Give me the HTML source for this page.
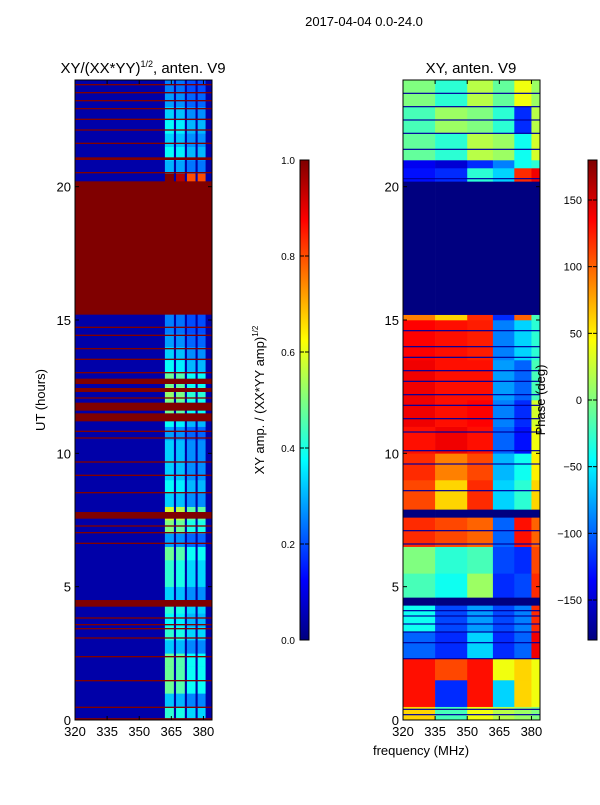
<!DOCTYPE html>
<html><head><meta charset="utf-8"><style>
body{margin:0;background:#fff;font-family:"Liberation Sans",sans-serif;}
svg text{font-family:"Liberation Sans","DejaVu Sans",sans-serif;}
</style></head><body>
<svg id="fig" width="600" height="800" xmlns="http://www.w3.org/2000/svg">
<defs>
<linearGradient id="jetg" x1="0" y1="1" x2="0" y2="0">
<stop offset="0" stop-color="#00007f"/><stop offset="0.125" stop-color="#0000ff"/>
<stop offset="0.375" stop-color="#00ffff"/><stop offset="0.625" stop-color="#ffff00"/>
<stop offset="0.875" stop-color="#ff0000"/><stop offset="1" stop-color="#7f0000"/>
</linearGradient>
<clipPath id="clipL"><rect x="75" y="80" width="137" height="640"/></clipPath>
<clipPath id="clipR"><rect x="403" y="80" width="137" height="640"/></clipPath>
</defs>
<text x="364" y="26" font-size="13" text-anchor="middle">2017-04-04 0.0-24.0</text>
<text x="143" y="73" font-size="15" text-anchor="middle">XY/(XX*YY)<tspan font-size="9" dy="-6">1/2</tspan><tspan dy="6">, anten. V9</tspan></text>
<text x="471" y="73" font-size="15" text-anchor="middle">XY, anten. V9</text>
<g id="gL" clip-path="url(#clipL)"></g>
<g id="gR" clip-path="url(#clipR)"></g>
<rect x="75" y="80" width="137" height="640" fill="none" stroke="#000"/>
<rect x="403" y="80" width="137" height="640" fill="none" stroke="#000"/>
<g id="axes"></g>
<text transform="translate(45,400) rotate(-90)" font-size="13" text-anchor="middle">UT (hours)</text>
<text x="421" y="755" font-size="13" text-anchor="middle">frequency (MHz)</text>
<text transform="translate(264,400) rotate(-90)" font-size="13" text-anchor="middle">XY amp. / (XX*YY amp)<tspan font-size="8" dy="-6">1/2</tspan></text>
<text transform="translate(545,400) rotate(-90)" font-size="13" text-anchor="middle">Phase (deg)</text>
<rect x="300" y="160" width="9" height="480" fill="url(#jetg)" stroke="#000"/>
<rect x="588" y="160" width="9" height="480" fill="url(#jetg)" stroke="#000"/>
<g id="cb"></g>
</svg>
<script>
// ---- data ----
const ampRows = [0.42,0.32,0.48,0.48,0.48,0.32,0.42,0.38,0.42,0.33,0.42,0.42,0.48,0.28,0.5,0.58,0.33,0.38,0.33,0.33,0.33,0.28,0.38,0.48,0.52,0.48,0.38,0.33,0.28,0.25,0.25,1,1,1,1,1,1,1,1,1,1,0.3,0.38,0.33,0.38,0.33,0.28,0.25];
const ampColScale = [1.0,0.95,0.8,0.8];
const ampColFreqs = [[362,366.2],[367.2,371.3],[372.3,376.3],[377.3,381]];
const ampBackground = 0.04;
const redStart = [0,0.45,1.45,2.35,3.05,3.4,3.55,3.8,4.25,6.6,7.0,7.25,7.55,8.5,9.15,9.65,10.55,10.8,11.2,11.6,12.05,12.3,12.6,13.0,13.5,13.9,14.4,14.7,15.2,20.5,21.0,21.6,22.1,22.5,22.9,23.2,23.5,23.8];
const redEnd   = [0.07,0.5,1.5,2.4,3.1,3.45,3.6,3.85,4.5,6.65,7.05,7.3,7.8,8.55,9.2,9.7,10.6,10.85,11.5,11.9,12.1,12.45,12.8,13.05,13.55,13.95,14.45,14.75,20.2,20.55,21.1,21.65,22.15,22.55,22.95,23.25,23.55,23.85];
const phaseFreqEdges = [320,335,350,362,372,380,384];
const phaseStart = [0,0.5,1.5,2.3,3.3,4.3,4.6,5.5,6.5,7.6,7.9,9.0,10.0,11.0,12.0,13.5,15.0,15.2,20.2,20.7,21.0,22.0,23.0];
const phaseEnd   = [0.5,1.5,2.3,3.3,4.3,4.6,5.5,6.5,7.6,7.9,9.0,10.0,11.0,12.0,13.5,15.0,15.2,20.2,20.7,21.0,22.0,23.0,24.0];
const phaseVals = [
 [60,-20,40,20,10,0],
 [130,-120,130,-60,60,40],
 [130,110,130,40,60,40],
 [-100,-120,-60,-120,-100,140],
 [-40,-110,-80,-110,-90,120],
 [-180,-180,-180,-180,-180,-180],
 [-20,-40,10,-120,-110,120],
 [0,-30,-20,-110,-120,110],
 [120,110,100,-100,130,100],
 [-180,-180,-180,-180,-180,-180],
 [110,60,120,-60,-30,60],
 [120,90,110,-70,-40,50],
 [130,140,130,-100,-130,40],
 [140,130,135,-90,-120,30],
 [140,130,130,-80,-100,-20],
 [135,130,125,-90,-60,-30],
 [90,60,120,-120,100,-20],
 [-180,-180,-180,-180,-180,-180],
 [-130,-120,-30,-60,120,140],
 [-140,-150,-120,-90,-40,-30],
 [-10,-30,20,10,-40,30],
 [-20,10,0,-30,-120,20],
 [0,-30,20,-10,40,10]
];
const phaseLineHours = [0.2,0.4,2.3,2.9,3.3,3.6,3.9,4.1,6.6,7.1,8.6,9.6,10.1,10.8,11.3,11.8,12.2,12.7,13.1,13.6,14.0,14.6,20.3,21.4,22.0,22.5,23.0,23.5];
const ampTicks = [0,0.2,0.4,0.6,0.8,1.0];
const phaseTicks = [150,100,50,0,-50,-100,-150];
const hourTicks = [0,5,10,15,20];
const freqTicks = [320,335,350,365,380];
// ---- scales ----
const NS='http://www.w3.org/2000/svg';
const yH = h => 720 - h*640/24;
const xL = f => 75 + (f-320)*137/64;
const xR = f => 403 + (f-320)*137/64;
const yAmp = v => 640 - v*480;
const yPh = p => 400 - p*480/360;
function jet(t){t=Math.max(0,Math.min(1,t));
 const c=x=>Math.round(255*Math.max(0,Math.min(1,x)));
 const r=c(Math.min(4*t-1.5,-4*t+4.5)),g=c(Math.min(4*t-0.5,-4*t+3.5)),b=c(Math.min(4*t+0.5,-4*t+2.5));
 return `rgb(${r},${g},${b})`;}
function mk(parent,tag,attrs){const e=document.createElementNS(NS,tag);for(const k in attrs)e.setAttribute(k,attrs[k]);parent.appendChild(e);return e;}
const gL=document.getElementById('gL'),gR=document.getElementById('gR'),ax=document.getElementById('axes'),cb=document.getElementById('cb');
let bg=mk(gL,'rect',{x:75,y:80,width:137,height:640,fill:jet(ampBackground)});


ampRows.forEach((v,i)=>{ampColFreqs.forEach((fr,j)=>{
 const r=mk(gL,'rect',{x:xL(fr[0]),y:yH((i+1)*0.5),width:xL(fr[1])-xL(fr[0]),height:640/48+0.3,fill:jet(v*ampColScale[j])});
 
 
});});
redStart.forEach((s,i)=>{
 const r=mk(gL,'rect',{x:75,y:yH(redEnd[i]),width:137,height:Math.max(1,yH(s)-yH(redEnd[i])),fill:jet(1)});
 
 
});
phaseStart.forEach((s,i)=>{phaseVals[i].forEach((p,j)=>{
 const r=mk(gR,'rect',{x:xR(phaseFreqEdges[j]),y:yH(phaseEnd[i]),width:xR(phaseFreqEdges[j+1])-xR(phaseFreqEdges[j])+0.3,height:yH(s)-yH(phaseEnd[i])+0.3,fill:jet((p+180)/360)});
 
 
});});
phaseLineHours.forEach(h=>{
 const r=mk(gR,'rect',{x:403,y:yH(h)-0.6,width:137,height:1.2,fill:jet(0.03)});
 
 
});
[[75,xL],[403,xR]].forEach(([x0,xs],k)=>{
 hourTicks.forEach(h=>{
  mk(ax,'line',{x1:x0,x2:x0+4,y1:yH(h),y2:yH(h),stroke:'#000'});
  mk(ax,'line',{x1:x0+133,x2:x0+137,y1:yH(h),y2:yH(h),stroke:'#000'});
  const t=mk(ax,'text',{x:x0-4,y:yH(h)+5,'font-size':13,'text-anchor':'end'});t.textContent=h;
  
  
 });
 freqTicks.forEach(f=>{
  const x=xs(f);
  mk(ax,'line',{x1:x,x2:x,y1:720,y2:716,stroke:'#000'});
  mk(ax,'line',{x1:x,x2:x,y1:80,y2:84,stroke:'#000'});
  const t=mk(ax,'text',{x:x,y:736,'font-size':13,'text-anchor':'middle'});t.textContent=f;
  
  
 });
});
ampTicks.forEach(v=>{
 mk(cb,'line',{x1:300,x2:304,y1:yAmp(v),y2:yAmp(v),stroke:'#000'});
 mk(cb,'line',{x1:305,x2:309,y1:yAmp(v),y2:yAmp(v),stroke:'#000'});
 const t=mk(cb,'text',{x:295,y:yAmp(v)+4,'font-size':10,'text-anchor':'end'});t.textContent=v.toFixed(1);
 
 
});
phaseTicks.forEach(p=>{
 mk(cb,'line',{x1:588,x2:592,y1:yPh(p),y2:yPh(p),stroke:'#000'});
 mk(cb,'line',{x1:593,x2:597,y1:yPh(p),y2:yPh(p),stroke:'#000'});
 const t=mk(cb,'text',{x:582,y:yPh(p)+4,'font-size':11,'text-anchor':'end'});t.textContent=p<0?'\u2212'+(-p):p;
 
 
});
</script>
</body></html>
